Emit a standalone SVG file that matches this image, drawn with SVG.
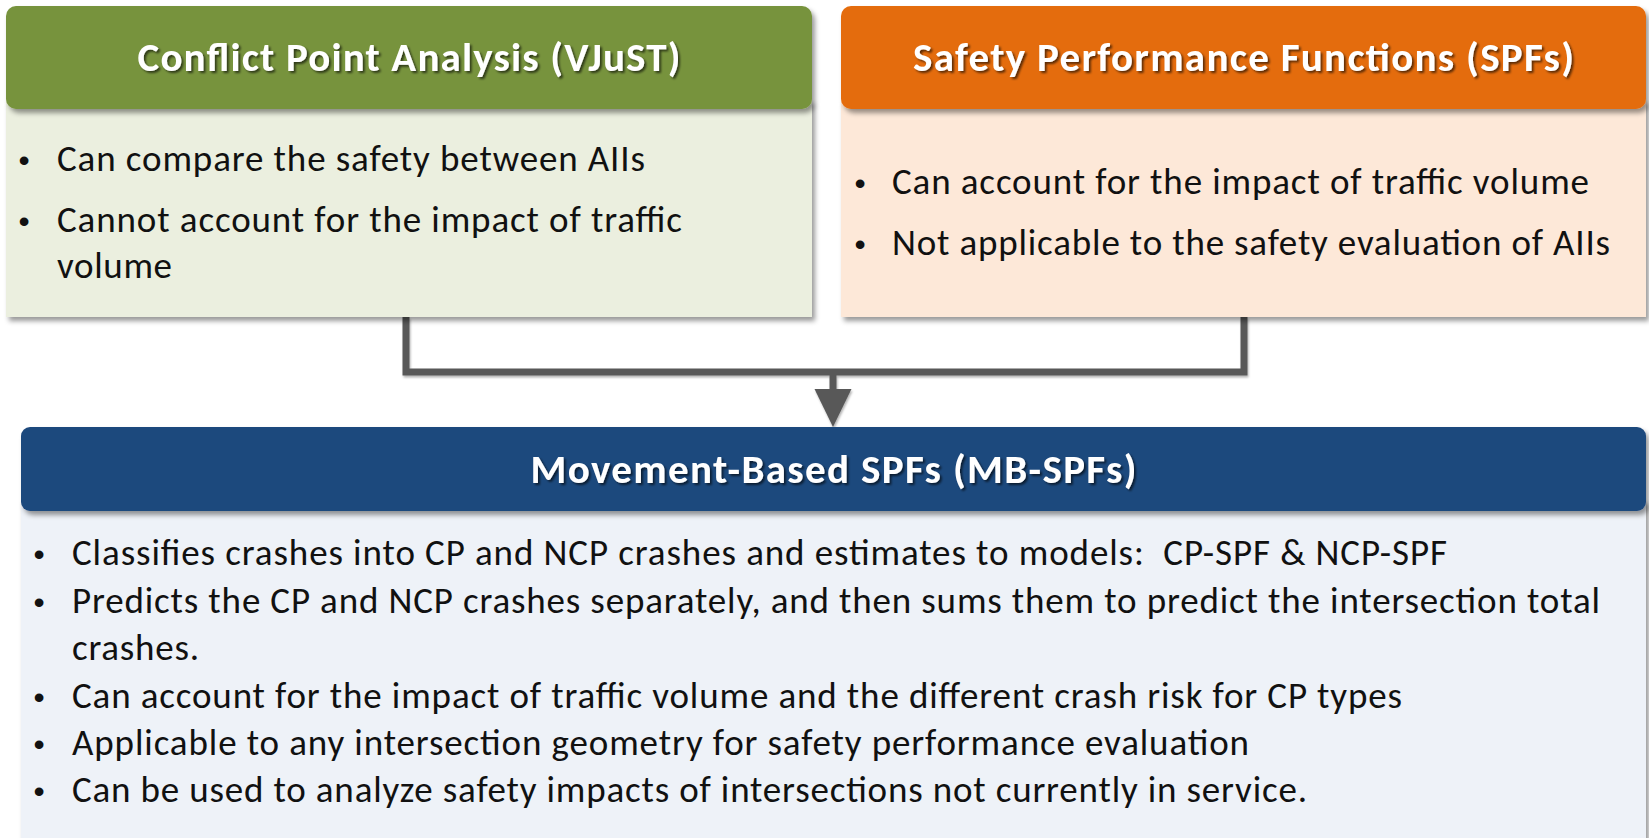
<svg xmlns="http://www.w3.org/2000/svg" width="1649" height="838" viewBox="0 0 1649 838">
  <style>
    .hdr-text { font-family: Calibri, Carlito, Lato, "Liberation Sans", sans-serif; font-weight: 700; font-size: 41px; fill: #ffffff; text-anchor: middle; }
    .item { font-family: Calibri, Carlito, Lato, "Liberation Sans", sans-serif; font-size: 37px; fill: #111111; }
    .dot { font-family: "Liberation Sans", Arial, sans-serif; font-size: 32px; fill: #111111; text-anchor: middle; }
    .link { fill: none; stroke: #595959; stroke-width: 7; stroke-linejoin: miter; stroke-linecap: butt; }
  </style>
  <defs>
    <filter id="boxShadow" x="-5%" y="-10%" width="112%" height="130%">
      <feDropShadow dx="3" dy="4" stdDeviation="2.5" flood-color="#000000" flood-opacity="0.4"/>
    </filter>
    <filter id="textShadow" x="-5%" y="-20%" width="115%" height="150%">
      <feDropShadow dx="2" dy="2" stdDeviation="1.2" flood-color="#000000" flood-opacity="0.6"/>
    </filter>
    <filter id="lineShadow" filterUnits="userSpaceOnUse" x="380" y="300" width="900" height="140">
      <feDropShadow dx="1" dy="2" stdDeviation="1" flood-color="#000000" flood-opacity="0.3"/>
    </filter>
    <marker id="arrowHead" markerUnits="userSpaceOnUse" viewBox="0 -20 40 40" markerWidth="40" markerHeight="40" refX="2" refY="0" orient="auto" overflow="visible">
      <path d="M0,-18.5 L38,0 L0,18.5 Z" fill="#595959"/>
    </marker>
  </defs>

  <rect width="1649" height="838" fill="#ffffff"/>

  <!-- Connectors: both upper boxes merge into one arrow pointing down -->
  <g id="connectors" filter="url(#lineShadow)">
    <path class="link" d="M406,317 V372 H1244 V317"/>
    <line class="link" x1="833" y1="372" x2="833" y2="391" marker-end="url(#arrowHead)"/>
  </g>

  <!-- Conflict point analysis -->
  <g id="node-vjust">
    <rect x="6" y="100" width="806" height="217" fill="#EBEFDF" filter="url(#boxShadow)"/>
    <rect x="6" y="6" width="806" height="103" rx="10" fill="#77933C" filter="url(#boxShadow)"/>
    <text class="hdr-text" x="409" y="71" textLength="543" filter="url(#textShadow)">Conflict Point Analysis (VJuST)</text>
    <text class="dot" x="24" y="171">•</text>
    <text class="item" x="57" y="171" textLength="588">Can compare the safety between AIIs</text>
    <text class="dot" x="24" y="232">•</text>
    <text class="item" x="57" y="232" textLength="625">Cannot account for the impact of traffic</text>
    <text class="item" x="57" y="278" textLength="115">volume</text>
  </g>

  <!-- Safety performance functions -->
  <g id="node-spf">
    <rect x="841" y="100" width="805" height="217" fill="#FDE8D8" filter="url(#boxShadow)"/>
    <rect x="841" y="6" width="805" height="103" rx="10" fill="#E46C0A" filter="url(#boxShadow)"/>
    <text class="hdr-text" x="1243.5" y="71" textLength="661" filter="url(#textShadow)">Safety Performance Functions (SPFs)</text>
    <text class="dot" x="860" y="194">•</text>
    <text class="item" x="892" y="194" textLength="697">Can account for the impact of traffic volume</text>
    <text class="dot" x="860" y="255">•</text>
    <text class="item" x="892" y="255" textLength="718">Not applicable to the safety evaluation of AIIs</text>
  </g>

  <!-- Movement-based SPFs -->
  <g id="node-mbspf">
    <rect x="21" y="500" width="1625" height="345" fill="#EEF2F8" filter="url(#boxShadow)"/>
    <rect x="21" y="427" width="1625" height="84" rx="9" fill="#1F497D" filter="url(#boxShadow)"/>
    <text class="hdr-text" x="833.5" y="483" textLength="606" filter="url(#textShadow)">Movement-Based SPFs (MB-SPFs)</text>
    <text class="dot" x="39" y="565">•</text>
    <text class="item" x="72" y="565" textLength="1375">Classifies crashes into CP and NCP crashes and estimates to models:&#160; CP-SPF &amp; NCP-SPF</text>
    <text class="dot" x="39" y="613">•</text>
    <text class="item" x="72" y="613" textLength="1528">Predicts the CP and NCP crashes separately, and then sums them to predict the intersection total</text>
    <text class="item" x="72" y="660" textLength="127">crashes.</text>
    <text class="dot" x="39" y="708">•</text>
    <text class="item" x="72" y="708" textLength="1330">Can account for the impact of traffic volume and the different crash risk for CP types</text>
    <text class="dot" x="39" y="755">•</text>
    <text class="item" x="72" y="755" textLength="1177">Applicable to any intersection geometry for safety performance evaluation</text>
    <text class="dot" x="39" y="802">•</text>
    <text class="item" x="72" y="802" textLength="1235">Can be used to analyze safety impacts of intersections not currently in service.</text>
  </g>
</svg>
